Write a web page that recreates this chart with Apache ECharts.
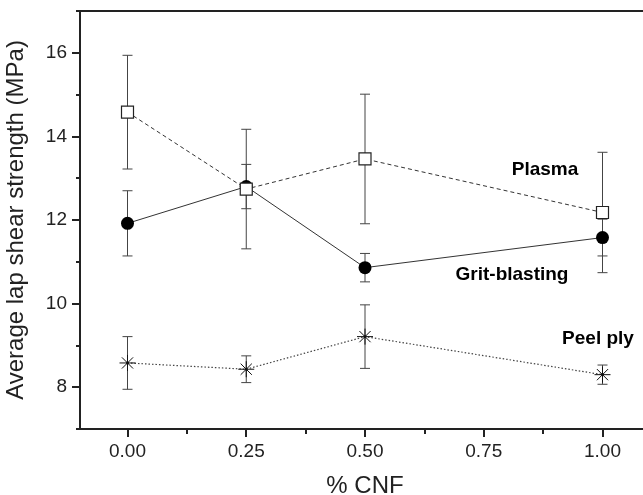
<!DOCTYPE html>
<html>
<head>
<meta charset="utf-8">
<script src="https://cdn.jsdelivr.net/npm/echarts@6/dist/echarts.min.js"></script>
<style>html,body{margin:0;padding:0;background:#fff;}#chart{width:643px;height:495px;}</style>
</head>
<body>
<div id="chart"></div>
<script>
// ---- data ----
const cnf = [0, 0.25, 0.5, 1.0];
const plasmaMean = [14.58, 12.74, 13.46, 12.18];
const plasmaErr  = [1.36, 1.43, 1.55, 1.44];
const gritMean   = [11.92, 12.80, 10.86, 11.58];
const gritErr    = [0.78, 0.53, 0.34, 0.44];
const peelMean   = [8.58, 8.43, 9.21, 8.30];
const peelErr    = [0.63, 0.32, 0.76, 0.23];
const xMajorTicks = [0, 0.25, 0.5, 0.75, 1.0];
const xMinorTicks = [0.125, 0.375, 0.625, 0.875];
const yMajorTicks = [8, 10, 12, 14, 16];
const yMinorTicks = [7, 9, 11, 13, 15, 17];
const seriesLabels = ['Plasma', 'Grit-blasting', 'Peel ply'];

const FONT = 'Liberation Sans, Arial, sans-serif';
const pts = (m) => cnf.map((x, i) => [x, m[i]]);
const errs = (m, e) => cnf.map((x, i) => [x, m[i] - e[i], m[i] + e[i]]);

function errRender(params, api) {
  const x = api.value(0), lo = api.value(1), hi = api.value(2);
  const a = api.coord([x, hi]), b = api.coord([x, lo]);
  const w = 5;
  const st = { stroke: '#444', lineWidth: 1 };
  return { type: 'group', children: [
    { type: 'line', shape: { x1: a[0], y1: a[1], x2: b[0], y2: b[1] }, style: st },
    { type: 'line', shape: { x1: a[0] - w, y1: a[1], x2: a[0] + w, y2: a[1] }, style: st },
    { type: 'line', shape: { x1: b[0] - w, y1: b[1], x2: b[0] + w, y2: b[1] }, style: st }
  ]};
}

const chart = echarts.init(document.getElementById('chart'), null, { renderer: 'canvas' });
const xBase = { type: 'value', min: -0.1, max: 1.1, splitLine: { show: false } };
const yBase = { type: 'value', min: 7, max: 17, splitLine: { show: false } };
chart.setOption({
  animation: false,
  backgroundColor: '#fff',
  grid: { left: 80, right: -7, top: 11, bottom: 66, containLabel: false, outerBoundsMode: 'none',
    show: true, borderColor: '#222', borderWidth: 2, backgroundColor: 'transparent' },
  xAxis: [
    Object.assign({}, xBase, {
      position: 'bottom',
      axisLine: { show: true, onZero: false, lineStyle: { color: '#222', width: 2 } },
      axisTick: { show: true, customValues: xMajorTicks, length: 8, lineStyle: { color: '#222', width: 2 } },
      axisLabel: { customValues: xMajorTicks, margin: 13, fontSize: 19, color: '#222', fontFamily: FONT,
        formatter: v => v.toFixed(2) },
      name: '% CNF', nameLocation: 'middle', nameGap: 45,
      nameTextStyle: { fontSize: 24, color: '#222', fontFamily: FONT }
    }),
    Object.assign({}, xBase, {
      position: 'bottom',
      axisLine: { show: false, onZero: false },
      axisTick: { show: true, customValues: xMinorTicks, length: 5, lineStyle: { color: '#222', width: 2 } },
      axisLabel: { show: false }
    })
  ],
  yAxis: [
    Object.assign({}, yBase, {
      position: 'left',
      axisLine: { show: true, onZero: false, lineStyle: { color: '#222', width: 2 } },
      axisTick: { show: true, customValues: yMajorTicks, length: 8, lineStyle: { color: '#222', width: 2 } },
      axisLabel: { customValues: yMajorTicks, margin: 13, fontSize: 19, color: '#222', fontFamily: FONT },
      name: 'Average lap shear strength (MPa)', nameLocation: 'middle', nameGap: 52,
      nameTextStyle: { fontSize: 24, color: '#222', fontFamily: FONT }
    }),
    Object.assign({}, yBase, {
      position: 'left',
      axisLine: { show: false, onZero: false },
      axisTick: { show: true, customValues: yMinorTicks, length: 4, lineStyle: { color: '#222', width: 2 } },
      axisLabel: { show: false }
    })
  ],
  series: [
    { type: 'custom', renderItem: errRender, data: errs(peelMean, peelErr), encode: { x: 0, y: [1, 2] }, z: 1 },
    { type: 'custom', renderItem: errRender, data: errs(gritMean, gritErr), encode: { x: 0, y: [1, 2] }, z: 1 },
    { type: 'custom', renderItem: errRender, data: errs(plasmaMean, plasmaErr), encode: { x: 0, y: [1, 2] }, z: 1 },
    { name: seriesLabels[2], type: 'line', data: pts(peelMean), z: 3,
      lineStyle: { color: '#444', width: 1.2, type: [1.5, 2] },
      symbol: 'path://M0,-10L0,10M-10,0L10,0M-7,-7L7,7M-7,7L7,-7M-1,-1L1,-1L1,1L-1,1Z', symbolSize: 16,
      itemStyle: { color: '#111', borderColor: '#111', borderWidth: 1 } },
    { name: seriesLabels[1], type: 'line', data: pts(gritMean), z: 4,
      lineStyle: { color: '#333', width: 1 },
      symbol: 'circle', symbolSize: 13,
      itemStyle: { color: '#000', borderColor: '#000', borderWidth: 0 } },
    { name: seriesLabels[0], type: 'line', data: pts(plasmaMean), z: 5,
      lineStyle: { color: '#333', width: 1, type: [4, 3] },
      symbol: 'rect', symbolSize: 12,
      itemStyle: { color: '#fff', borderColor: '#222', borderWidth: 1.2 } }
  ],
  graphic: [
    { type: 'text', x: 545, y: 170, style: { text: seriesLabels[0], font: 'bold 19px ' + FONT, fill: '#000', textAlign: 'center', textVerticalAlign: 'middle' } },
    { type: 'text', x: 512, y: 275, style: { text: seriesLabels[1], font: 'bold 19px ' + FONT, fill: '#000', textAlign: 'center', textVerticalAlign: 'middle' } },
    { type: 'text', x: 598, y: 339, style: { text: seriesLabels[2], font: 'bold 19px ' + FONT, fill: '#000', textAlign: 'center', textVerticalAlign: 'middle' } }
  ]
});
</script>
</body>
</html>
